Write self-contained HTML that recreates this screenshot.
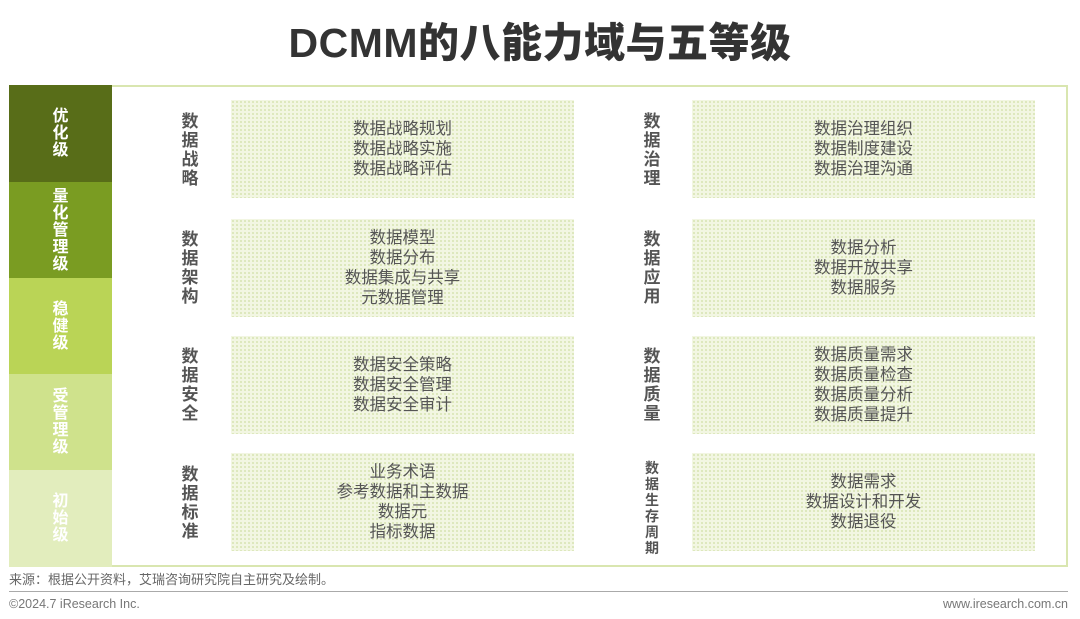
<!DOCTYPE html>
<html><head><meta charset="utf-8"><style>
*{margin:0;padding:0;box-sizing:border-box}
body{width:1080px;height:619px;background:#fff;position:relative;overflow:hidden;font-family:"Liberation Sans","Noto Sans CJK SC",sans-serif}
.t{position:absolute;left:0;width:1080px;top:9px;text-align:center;font-size:41px;font-weight:900;color:#333;letter-spacing:0.5px}
.frame{position:absolute;left:9px;top:85px;width:1059px;height:482px;border:2px solid #d9e6b0;border-left:none}
.lv{position:absolute;left:9px;width:103px;color:#fff;font-weight:bold;font-size:16px;line-height:17px;display:flex;align-items:center;justify-content:center;text-align:center}
.lv span{width:18px;display:block}
.cat{position:absolute;width:20px;font-weight:bold;font-size:17px;line-height:19px;color:#555;text-align:center}
.box{position:absolute;width:343px;height:98px;background-color:#f2f6e2;background-image:radial-gradient(#d8e4b4 0.9px,transparent 1.1px);background-size:4px 4px;display:flex;align-items:center;justify-content:center;text-align:center;font-size:16.5px;line-height:20px;color:#555}
.src{position:absolute;left:9px;top:569px;font-size:13px;color:#666}
.hr{position:absolute;left:9px;top:591px;width:1059px;height:1px;background:#aaa}
.ft{position:absolute;top:597px;font-size:12.5px;color:#777}
</style></head><body>
<div class="t">DCMM的八能力域与五等级</div>
<div class="frame"></div>
<div class="lv" style="top:85px;height:97px;background:#586d18"><span>优化级</span></div>
<div class="lv" style="top:182px;height:96px;background:#7a9c22"><span>量化管理级</span></div>
<div class="lv" style="top:278px;height:96px;background:#bad456"><span>稳健级</span></div>
<div class="lv" style="top:374px;height:96px;background:#cfe28c"><span>受管理级</span></div>
<div class="lv" style="top:470px;height:97px;background:#e2edbd"><span>初始级</span></div>

<div class="cat" style="left:180px;top:112px">数据战略</div>
<div class="cat" style="left:180px;top:230px">数据架构</div>
<div class="cat" style="left:180px;top:347px">数据安全</div>
<div class="cat" style="left:180px;top:465px">数据标准</div>
<div class="cat" style="left:642px;top:112px">数据治理</div>
<div class="cat" style="left:642px;top:230px">数据应用</div>
<div class="cat" style="left:642px;top:347px">数据质量</div>
<div class="cat" style="left:642px;top:460px;font-size:14px;line-height:16px">数据生存周期</div>

<div class="box" style="left:231px;top:100px">数据战略规划<br>数据战略实施<br>数据战略评估</div>
<div class="box" style="left:231px;top:219px">数据模型<br>数据分布<br>数据集成与共享<br>元数据管理</div>
<div class="box" style="left:231px;top:336px">数据安全策略<br>数据安全管理<br>数据安全审计</div>
<div class="box" style="left:231px;top:453px">业务术语<br>参考数据和主数据<br>数据元<br>指标数据</div>
<div class="box" style="left:692px;top:100px">数据治理组织<br>数据制度建设<br>数据治理沟通</div>
<div class="box" style="left:692px;top:219px">数据分析<br>数据开放共享<br>数据服务</div>
<div class="box" style="left:692px;top:336px">数据质量需求<br>数据质量检查<br>数据质量分析<br>数据质量提升</div>
<div class="box" style="left:692px;top:453px">数据需求<br>数据设计和开发<br>数据退役</div>

<div class="src">来源：根据公开资料，艾瑞咨询研究院自主研究及绘制。</div>
<div class="hr"></div>
<div class="ft" style="left:9px">©2024.7 iResearch Inc.</div>
<div class="ft" style="right:12px">www.iresearch.com.cn</div>
</body></html>
